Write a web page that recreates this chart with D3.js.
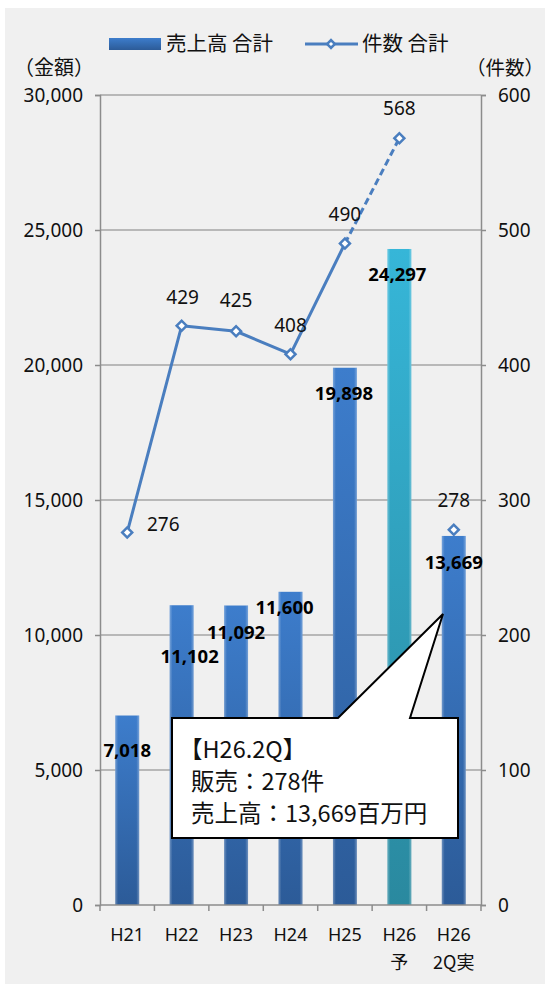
<!DOCTYPE html>
<html>
<head>
<meta charset="utf-8">
<script src="https://cdn.jsdelivr.net/npm/d3@7"></script>
<style>
  html, body { margin: 0; padding: 0; background: #ffffff; }
  svg { display: block; }
</style>
</head>
<body>
<div id="chart"></div>
<script>
// Categories (two-line x labels)
const categories = ["H21", "H22", "H23", "H24", "H25", "H26予", "H26 2Q実"];
const categoryLines = [["H21"], ["H22"], ["H23"], ["H24"], ["H25"], ["H26", "予"], ["H26", "2Q実"]];
// 売上高 合計 (百万円)
const salesValues = [7018, 11102, 11092, 11600, 19898, 24297, 13669];
// 件数 合計
const countValues = [276, 429, 425, 408, 490, 568, 278];
// Tick labels
const leftTicks = [0, 5000, 10000, 15000, 20000, 25000, 30000];
const rightTicks = [0, 100, 200, 300, 400, 500, 600];

// Label placement tweaks (dx, dy from the mark)
const barLabelOffsets = [[0, 34], [8, 50], [0, 26], [-6, 15], [-1, 25], [-2, 25], [0, 26]];
const countLabelOffsets = [[36, -8], [1, -29], [0, -31], [0, -29], [0, -30], [0, -30], [0, -30]];

const W = 545, H = 984;
const plot = { left: 100, right: 481, top: 95, bottom: 905 };
const latin = "'Noto Sans', 'DejaVu Sans', sans-serif";
const cjk = "'Noto Sans CJK JP', 'Noto Sans', sans-serif";

const svg = d3.select("#chart").append("svg").attr("width", W).attr("height", H);
svg.append("rect").attr("x", 5).attr("y", 8).attr("width", W - 5).attr("height", H - 8).attr("fill", "#f0f0f0");

const defs = svg.append("defs");
function barGradient(id, top, bottom) {
  const g = defs.append("linearGradient").attr("id", id).attr("x1", 0).attr("y1", 0).attr("x2", 0).attr("y2", 1);
  g.append("stop").attr("offset", "0%").attr("stop-color", top);
  g.append("stop").attr("offset", "100%").attr("stop-color", bottom);
}
barGradient("gBlue", "#3d7dcc", "#2c5b98");
barGradient("gCyan", "#36b6d8", "#2a899f");
const edge = defs.append("linearGradient").attr("id", "gEdge").attr("x1", 0).attr("y1", 0).attr("x2", 1).attr("y2", 0);
edge.append("stop").attr("offset", "0%").attr("stop-color", "#ffffff").attr("stop-opacity", 0.3);
edge.append("stop").attr("offset", "12%").attr("stop-color", "#ffffff").attr("stop-opacity", 0);
edge.append("stop").attr("offset", "88%").attr("stop-color", "#ffffff").attr("stop-opacity", 0);
edge.append("stop").attr("offset", "100%").attr("stop-color", "#ffffff").attr("stop-opacity", 0.3);

const x = d3.scaleBand().domain(categories).range([plot.left, plot.right]).paddingInner(0.56).paddingOuter(0.28);
const yL = d3.scaleLinear().domain([0, 30000]).range([plot.bottom, plot.top]);
const yR = d3.scaleLinear().domain([0, 600]).range([plot.bottom, plot.top]);
const cx = c => x(c) + x.bandwidth() / 2;

// Gridlines
svg.append("g").selectAll("line").data(leftTicks.filter(d => d > 0)).join("line")
  .attr("x1", plot.left).attr("x2", plot.right)
  .attr("y1", d => yL(d)).attr("y2", d => yL(d))
  .attr("stroke", "#a6a6a6").attr("stroke-width", 1.5);

// Left axis
const axisL = svg.append("g").attr("transform", `translate(${plot.left},0)`)
  .call(d3.axisLeft(yL).tickValues(leftTicks).tickFormat(d3.format(",")).tickSize(5).tickPadding(12));
// Right axis
const axisR = svg.append("g").attr("transform", `translate(${plot.right},0)`)
  .call(d3.axisRight(yR).tickValues(rightTicks).tickFormat(d3.format("d")).tickSize(5).tickPadding(12));
[axisL, axisR].forEach(a => {
  a.select(".domain").attr("stroke", "#8c8c8c").attr("stroke-width", 1.5);
  a.selectAll(".tick line").attr("stroke", "#8c8c8c").attr("stroke-width", 1.5);
  a.selectAll(".tick text").attr("font-family", latin).attr("font-size", 19).attr("fill", "#111");
});

// Bars
const bars = svg.append("g");
bars.selectAll("rect.bar").data(salesValues).join("rect").attr("class", "bar")
  .attr("x", (d, i) => x(categories[i])).attr("width", x.bandwidth())
  .attr("y", d => yL(d)).attr("height", d => plot.bottom - yL(d))
  .attr("fill", (d, i) => i === 5 ? "url(#gCyan)" : "url(#gBlue)");
bars.selectAll("rect.edge").data(salesValues).join("rect").attr("class", "edge")
  .attr("x", (d, i) => x(categories[i])).attr("width", x.bandwidth())
  .attr("y", d => yL(d)).attr("height", d => plot.bottom - yL(d))
  .attr("fill", "url(#gEdge)");

// Bottom axis
const axisB = svg.append("g");
axisB.append("line").attr("x1", plot.left).attr("x2", plot.right).attr("y1", plot.bottom).attr("y2", plot.bottom)
  .attr("stroke", "#8c8c8c").attr("stroke-width", 1.5);
const bounds = categories.map(c => x(c) - x.step() * x.paddingInner() / 2).concat([plot.right]);
bounds[0] = plot.left;
axisB.selectAll("line.tick").data(bounds).join("line").attr("class", "tick")
  .attr("x1", d => d).attr("x2", d => d).attr("y1", plot.bottom).attr("y2", plot.bottom + 6)
  .attr("stroke", "#8c8c8c").attr("stroke-width", 1.5);
categoryLines.forEach((lines, i) => {
  lines.forEach((t, j) => {
    axisB.append("text").attr("x", cx(categories[i])).attr("y", 934 + j * 27)
      .attr("text-anchor", "middle").attr("dominant-baseline", "central")
      .attr("font-family", j === 0 ? latin : cjk).attr("font-size", 18).attr("fill", "#111").text(t);
  });
});

// Bar value labels
svg.append("g").selectAll("text").data(salesValues).join("text")
  .attr("x", (d, i) => cx(categories[i]) + barLabelOffsets[i][0])
  .attr("y", (d, i) => yL(d) + barLabelOffsets[i][1])
  .attr("text-anchor", "middle").attr("dominant-baseline", "central")
  .attr("font-family", latin).attr("font-weight", "bold").attr("font-size", 18.5).attr("fill", "#000")
  .text(d => d3.format(",")(d));

// Count line: solid through H25, dashed to the forecast, 2Q result standalone
const lineBlue = "#4a7ebf";
const pts = countValues.map((v, i) => [cx(categories[i]), yR(v)]);
const lineGen = d3.line();
svg.append("path").attr("d", lineGen(pts.slice(0, 5))).attr("fill", "none")
  .attr("stroke", lineBlue).attr("stroke-width", 3).attr("stroke-linejoin", "round");
svg.append("path").attr("d", lineGen(pts.slice(4, 6))).attr("fill", "none")
  .attr("stroke", lineBlue).attr("stroke-width", 3).attr("stroke-dasharray", "7,4");

const diamond = d3.symbol().type(d3.symbolSquare).size(50);
svg.append("g").selectAll("path").data(pts).join("path")
  .attr("d", diamond)
  .attr("transform", d => `translate(${d[0]},${d[1]}) rotate(45)`)
  .attr("fill", "#ffffff").attr("stroke", lineBlue).attr("stroke-width", 2.5);

svg.append("g").selectAll("text").data(countValues).join("text")
  .attr("x", (d, i) => pts[i][0] + countLabelOffsets[i][0])
  .attr("y", (d, i) => pts[i][1] + countLabelOffsets[i][1])
  .attr("text-anchor", "middle").attr("dominant-baseline", "central")
  .attr("font-family", latin).attr("font-size", 19).attr("fill", "#111")
  .text(d => d);

// Axis titles
svg.append("text").attr("x", 54).attr("y", 66).attr("text-anchor", "middle").attr("dominant-baseline", "central")
  .attr("font-family", cjk).attr("font-size", 20).attr("fill", "#111").text("（金額）");
svg.append("text").attr("x", 544).attr("y", 66).attr("text-anchor", "end").attr("dominant-baseline", "central")
  .attr("font-family", cjk).attr("font-size", 19.5).attr("fill", "#111").text("（件数）");

// Legend
const lg = svg.append("g");
lg.append("rect").attr("x", 109).attr("y", 38).attr("width", 52).attr("height", 12).attr("fill", "url(#gBlue)");
lg.append("text").attr("x", 166).attr("y", 42).attr("dominant-baseline", "central")
  .attr("font-family", cjk).attr("font-size", 20.5).attr("fill", "#111").text("売上高 合計");
lg.append("line").attr("x1", 305).attr("x2", 358).attr("y1", 44).attr("y2", 44)
  .attr("stroke", lineBlue).attr("stroke-width", 3);
lg.append("path").attr("d", d3.symbol().type(d3.symbolSquare).size(30))
  .attr("transform", "translate(331,44) rotate(45)")
  .attr("fill", "#ffffff").attr("stroke", lineBlue).attr("stroke-width", 2.5);
lg.append("text").attr("x", 362).attr("y", 42).attr("dominant-baseline", "central")
  .attr("font-family", cjk).attr("font-size", 20.5).attr("fill", "#111").text("件数 合計");

// Callout pointing at the 2Q result
const box = { x0: 172, y0: 718, x1: 458, y1: 838 };
const tip = [443, 614];
const callout = d3.path();
callout.moveTo(box.x0, box.y0);
callout.lineTo(338, box.y0);
callout.lineTo(tip[0], tip[1]);
callout.lineTo(410, box.y0);
callout.lineTo(box.x1, box.y0);
callout.lineTo(box.x1, box.y1);
callout.lineTo(box.x0, box.y1);
callout.closePath();
svg.append("path").attr("d", callout.toString()).attr("fill", "#ffffff")
  .attr("stroke", "#000").attr("stroke-width", 2).attr("stroke-linejoin", "miter");
const calloutLines = [
  { t: "【H26.2Q】", dx: -12 },
  { t: "販売：278件", dx: 0 },
  { t: "売上高：13,669百万円", dx: 0 }
];
svg.append("g").selectAll("text").data(calloutLines).join("text")
  .attr("x", d => 191 + d.dx).attr("y", (d, i) => 748 + i * 32).attr("dominant-baseline", "central")
  .attr("font-family", cjk).attr("font-size", 23.5).attr("fill", "#111").text(d => d.t);
</script>
</body>
</html>
